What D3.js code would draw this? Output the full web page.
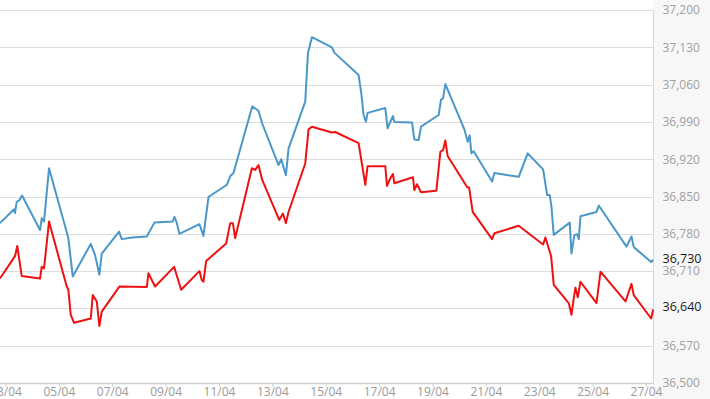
<!DOCTYPE html>
<html><head><meta charset="utf-8">
<script src="https://cdn.jsdelivr.net/npm/d3@7"></script>
<style>
html,body{margin:0;padding:0;background:#fff;}
svg{display:block;font-family:"Open Sans",sans-serif;}
</style></head>
<body><svg id="c" width="710" height="399"></svg>
<script>
// x values are day-of-month (April), fractional
const blueDays = [2.794,3.319,3.356,3.42,3.52,3.619,4.294,4.357,4.444,4.631,5.355,5.52,6.195,6.356,6.517,6.607,7.256,7.357,7.744,8.295,8.58,9.27,9.33,9.42,9.517,10.267,10.417,10.605,11.295,11.419,11.543,12.244,12.48,12.619,13.23,13.331,13.507,13.605,14.231,14.332,14.482,15.232,15.319,16.23,16.331,16.417,16.507,16.567,17.231,17.317,17.419,17.52,17.569,18.232,18.318,18.48,18.57,19.23,19.32,19.395,19.481,20.193,20.317,20.392,20.456,20.542,21.232,21.318,22.229,22.567,23.144,23.294,23.39,23.456,23.542,24.142,24.206,24.318,24.42,24.48,24.544,25.144,25.23,26.268,26.456,26.54,27.193,27.268];
const blueValues = [36800,36826,36819,36840,36843,36852,36787,36809,36803,36903,36772,36700,36761,36740,36703,36743,36784,36770,36773,36775,36801,36803,36812,36800,36780,36798,36776,36849,36872,36888,36894,37019,37011,36987,36909,36920,36890,36940,37028,37119,37149,37130,37120,37078,37044,37003,36990,37007,37016,36978,36990,37001,36990,36989,36957,36956,36981,37003,37032,37034,37061,36976,36953,36965,36931,36935,36878,36894,36887,36931,36901,36853,36853,36831,36778,36801,36743,36778,36779,36770,36813,36821,36833,36756,36775,36755,36727,36731];
const redDays = [2.794,3.356,3.442,3.607,4.294,4.357,4.444,4.631,5.295,5.355,5.445,5.569,6.195,6.27,6.42,6.517,6.607,7.267,8.295,8.355,8.606,9.319,9.581,10.267,10.357,10.417,10.519,11.269,11.419,11.52,11.606,12.232,12.356,12.48,12.619,13.256,13.395,13.507,13.605,14.231,14.355,14.482,15.232,15.356,16.23,16.481,16.567,17.231,17.294,17.419,17.52,17.569,18.27,18.318,18.42,18.57,19.144,19.294,19.395,19.481,19.567,20.295,20.37,20.505,21.232,21.318,22.229,23.144,23.23,23.444,23.542,24.105,24.206,24.292,24.356,24.442,24.544,25.144,25.294,26.231,26.456,26.54,27.193,27.268];
const redValues = [36696,36738,36757,36701,36696,36718,36715,36803,36681,36675,36628,36613,36621,36665,36653,36607,36634,36681,36680,36706,36681,36718,36675,36710,36693,36690,36729,36762,36800,36800,36772,36903,36900,36909,36881,36806,36818,36800,36821,36912,36976,36981,36970,36971,36950,36872,36907,36907,36870,36884,36892,36875,36886,36862,36873,36858,36861,36934,36937,36955,36926,36868,36867,36821,36770,36781,36795,36760,36773,36738,36684,36650,36628,36659,36679,36661,36690,36650,36709,36653,36686,36665,36621,36638];
const yTicks = [36500,36570,36640,36710,36780,36850,36920,36990,37060,37130,37200];
const xTickDays = [3,5,7,9,11,13,15,17,19,21,23,25,27];
const xTickLabels = ["03/04","05/04","07/04","09/04","11/04","13/04","15/04","17/04","19/04","21/04","23/04","25/04","27/04"];
const lastLabels = [{value:36730, text:"36,730"},{value:36640, text:"36,640"}];

const svg = d3.select("#c");
const W = 710, H = 399;
const pL = 0, pR = 653.5, pT = 10, pB = 383;
const x = d3.scaleLinear().domain([2.794, 27.28]).range([pL, pR]);
const y = d3.scaleLinear().domain([36500, 37200]).range([pB, pT]);

// right panel background
svg.append("rect").attr("x", pR).attr("y", 0).attr("width", W-pR).attr("height", H).attr("fill", "#f7f7f7");

// gridlines
svg.append("g").selectAll("line").data(yTicks).join("line")
  .attr("x1", pL).attr("x2", pR)
  .attr("y1", d => Math.round(y(d))+0.5).attr("y2", d => Math.round(y(d))+0.5)
  .attr("stroke", "#dcdcdc").attr("stroke-width", 1);
// right border
svg.append("line").attr("x1", pR).attr("x2", pR).attr("y1", pT).attr("y2", pB)
  .attr("stroke", "#d8d8d8");

// x axis
const xAxis = d3.axisBottom(x).tickValues(xTickDays).tickSize(4).tickPadding(0)
  .tickFormat((d,i) => xTickLabels[i]);
const gx = svg.append("g").attr("transform", `translate(0,${pB})`).call(xAxis);
gx.select(".domain").attr("stroke", "#cfcfcf").attr("stroke-width", 1.5).attr("d", `M${pL},0.5H${pR}`);
gx.selectAll(".tick line").attr("stroke", "#d0d0d0");
gx.selectAll(".tick text").attr("fill", "#9a9a9a").attr("font-size", 12).attr("font-family", "Open Sans");

// y axis (right)
const yAxis = d3.axisRight(y).tickValues(yTicks).tickSize(0).tickPadding(9)
  .tickFormat(d3.format(","));
const gy = svg.append("g").attr("transform", `translate(${pR},0)`).call(yAxis);
gy.select(".domain").remove();
gy.selectAll(".tick text").attr("fill", "#a0a0a0").attr("font-size", 12).attr("font-family", "Open Sans")
  .style("display", d => lastLabels.some(l => Math.abs(y(l.value) - y(d)) < 6) ? "none" : null);

// lines
const line = d3.line().x(d => x(d[0])).y(d => y(d[1]));
svg.append("path").datum(blueDays.map((d,i) => [d, blueValues[i]]))
  .attr("d", line).attr("fill", "none").attr("stroke", "#4a98c8").attr("stroke-width", 2).attr("stroke-linejoin", "round");
svg.append("path").datum(redDays.map((d,i) => [d, redValues[i]]))
  .attr("d", line).attr("fill", "none").attr("stroke", "#ee1111").attr("stroke-width", 2).attr("stroke-linejoin", "round");

// last value labels
svg.append("g").selectAll("text").data(lastLabels).join("text")
  .attr("x", pR + 9).attr("y", d => y(d.value) - 1).attr("dy", "0.32em")
  .attr("fill", "#1a1a1a").attr("font-size", 12.5).attr("font-family", "Open Sans")
  .text(d => d.text);
</script></body></html>
